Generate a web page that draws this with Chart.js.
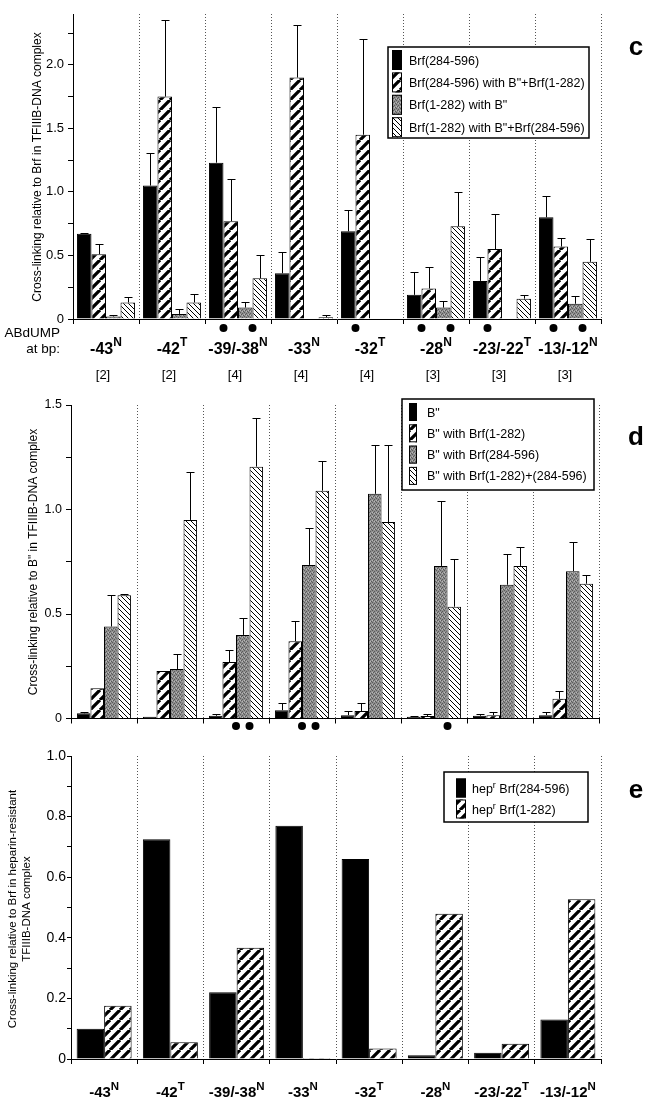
<!DOCTYPE html>
<html>
<head>
<meta charset="utf-8">
<script src="https://cdn.jsdelivr.net/npm/chart.js@4.4.1/dist/chart.umd.min.js"></script>
<style>
  html, body { margin: 0; padding: 0; background: #fff; }
  #page { position: relative; width: 652px; height: 1111px; overflow: hidden; }
  .panel { position: absolute; left: 0; width: 652px; }
</style>
</head>
<body>
<div id="page">
  <div class="panel" style="top:0;height:390px"><canvas id="chartC"></canvas></div>
  <div class="panel" style="top:390px;height:340px"><canvas id="chartD"></canvas></div>
  <div class="panel" style="top:730px;height:381px"><canvas id="chartE"></canvas></div>
</div>
<script>
/* ── DATA ─────────────────────────────────────────────────── */
const positions = ['-43', '-42', '-39/-38', '-33', '-32', '-28', '-23/-22', '-13/-12'];
const strands = ['N', 'T', 'N', 'N', 'T', 'N', 'T', 'N'];
const replicates = ['[2]', '[2]', '[4]', '[4]', '[4]', '[3]', '[3]', '[3]'];

// panel c
const legendC = ['Brf(284-596)', 'Brf(284-596) with B"+Brf(1-282)', 'Brf(1-282) with B"', 'Brf(1-282) with B"+Brf(284-596)'];
const brfC = [0.67, 1.05, 1.23, 0.36, 0.69, 0.19, 0.30, 0.80];
const brfCErr = [0.68, 1.31, 1.67, 0.53, 0.86, 0.37, 0.49, 0.97];
const brfBBrfC = [0.51, 1.75, 0.77, 1.90, 1.45, 0.24, 0.55, 0.57];
const brfBBrfCErr = [0.59, 2.35, 1.10, 2.31, 2.20, 0.41, 0.83, 0.64];
const nBrfBC = [0.02, 0.04, 0.09, 0.003, 0.004, 0.09, 0, 0.12];
const nBrfBCErr = [0.03, 0.08, 0.13, null, null, 0.14, null, 0.18];
const nBrfBBrfC = [0.13, 0.13, 0.32, 0.013, 0.004, 0.73, 0.16, 0.45];
const nBrfBBrfCErr = [0.17, 0.20, 0.50, 0.03, null, 1.00, 0.19, 0.63];
const ticksC = [0, 0.25, 0.5, 0.75, 1.0, 1.25, 1.5, 1.75, 2.0, 2.25];
const tickLabelsC = ['0', '', '0.5', '', '1.0', '', '1.5', '', '2.0', ''];
const dotsC = [[2, 1], [2, 3], [4, 1], [5, 1], [5, 3], [6, 1], [7, 1], [7, 3]];

// panel d
const legendD = ['B"', 'B" with Brf(1-282)', 'B" with Brf(284-596)', 'B" with Brf(1-282)+(284-596)'];
const bD = [0.025, 0.008, 0.013, 0.04, 0.016, 0.008, 0.013, 0.016];
const bDErr = [0.03, null, 0.02, 0.075, 0.035, 0.012, 0.02, 0.03];
const bND = [0.145, 0.227, 0.27, 0.37, 0.036, 0.012, 0.016, 0.094];
const bNDErr = [null, null, 0.33, 0.465, 0.074, 0.02, 0.03, 0.13];
const bCD = [0.44, 0.237, 0.40, 0.735, 1.075, 0.73, 0.64, 0.705];
const bCDErr = [0.59, 0.31, 0.48, 0.91, 1.31, 1.04, 0.785, 0.845];
const bNCD = [0.59, 0.95, 1.205, 1.09, 0.94, 0.535, 0.73, 0.645];
const bNCDErr = [0.595, 1.18, 1.44, 1.23, 1.31, 0.765, 0.82, 0.685];
const ticksD = [0, 0.25, 0.5, 0.75, 1.0, 1.25, 1.5];
const tickLabelsD = ['0', '', '0.5', '', '1.0', '', '1.5'];
const dotsD = [[2, 2], [2, 3], [3, 2], [3, 3], [5, 3]];

// panel e
const legendE = ['hep^{r} Brf(284-596)', 'hep^{r} Brf(1-282)'];
const hepC = [0.10, 0.725, 0.22, 0.77, 0.66, 0.012, 0.021, 0.13];
const hepN = [0.176, 0.055, 0.367, 0.003, 0.035, 0.479, 0.05, 0.527];
const ticksE = [0, 0.1, 0.2, 0.3, 0.4, 0.5, 0.6, 0.7, 0.8, 0.9, 1.0];
const tickLabelsE = ['0', '', '0.2', '', '0.4', '', '0.6', '', '0.8', '', '1.0'];

/* ── HELPERS ──────────────────────────────────────────────── */
const FONT = "'Liberation Sans', Arial, Helvetica, sans-serif";
Chart.defaults.font.family = FONT;
Chart.defaults.color = '#000';

function makeFill(kind) {
  if (kind === 'solid') return '#000';
  const c = document.createElement('canvas');
  const g = c.getContext('2d');
  if (kind === 'wide') {            // thick "/" stripes
    const s = 10;
    c.width = s; c.height = s;
    g.fillStyle = '#fff'; g.fillRect(0, 0, s, s);
    g.strokeStyle = '#000'; g.lineWidth = 3.3;
    g.beginPath();
    for (let k = -1; k <= 1; k++) { g.moveTo(k * s, s); g.lineTo(k * s + s, 0); }
    g.stroke();
  } else if (kind === 'thin') {     // thin "\" stripes
    const s = 5;
    c.width = s; c.height = s;
    g.fillStyle = '#fff'; g.fillRect(0, 0, s, s);
    g.strokeStyle = '#000'; g.lineWidth = 1;
    g.beginPath();
    for (let k = -1; k <= 1; k++) { g.moveTo(k * s, 0); g.lineTo(k * s + s, s); }
    g.stroke();
  } else {                          // grey stipple
    c.width = 4; c.height = 4;
    g.fillStyle = '#8e8e8e'; g.fillRect(0, 0, 4, 4);
    g.fillStyle = '#5a5a5a';
    [[0, 0], [2, 1], [1, 2], [3, 3]].forEach(([x, y]) => g.fillRect(x, y, 1, 1));
    g.fillStyle = '#b8b8b8';
    [[2, 3], [0, 2]].forEach(([x, y]) => g.fillRect(x, y, 1, 1));
  }
  return g.createPattern(c, 'repeat');
}

// text with ^{sup} parts
function drawRich(ctx, text, x, y, font, supFont, raise, align) {
  const parts = text.split(/(\^\{[^}]*\})/).filter(Boolean).map(p =>
    p.startsWith('^{') ? { t: p.slice(2, -1), sup: true } : { t: p, sup: false });
  let total = 0;
  parts.forEach(p => { ctx.font = p.sup ? supFont : font; p.w = ctx.measureText(p.t).width; total += p.w; });
  let cx = align === 'center' ? x - total / 2 : x;
  ctx.textAlign = 'left';
  parts.forEach(p => {
    ctx.font = p.sup ? supFont : font;
    ctx.fillText(p.t, cx, p.sup ? y - raise : y);
    cx += p.w;
  });
}

/* ── PANEL PLUGIN ─────────────────────────────────────────── */
function panelDecor(o) {
  return {
    id: 'decor',
    afterDatasetsDraw(chart) {
      const { ctx, scales: { y } } = chart;
      ctx.save();
      ctx.strokeStyle = '#000';
      ctx.lineWidth = 1;
      // error bars (upper only)
      chart.data.datasets.forEach((ds, di) => {
        if (!ds.err) return;
        chart.getDatasetMeta(di).data.forEach((bar, i) => {
          const top = ds.err[i];
          if (top == null) return;
          const { x, y: yBar } = bar.getProps(['x', 'y'], true);
          const yTop = Math.round(y.getPixelForValue(top)) + 0.5;
          const xc = Math.round(x) + 0.5;
          ctx.beginPath();
          ctx.moveTo(xc, yBar);
          ctx.lineTo(xc, yTop);
          ctx.moveTo(xc - 4, yTop);
          ctx.lineTo(xc + 4, yTop);
          ctx.stroke();
        });
      });
      // ABdUMP dots
      if (o.dots) {
        ctx.fillStyle = '#000';
        o.dots.forEach(([cat, j]) => {
          const bar = chart.getDatasetMeta(j).data[cat];
          const { x, width } = bar.getProps(['x', 'width'], true);
          ctx.beginPath();
          ctx.arc(x - width / 2, o.dotY, 4, 0, Math.PI * 2);
          ctx.fill();
        });
      }
      ctx.restore();
    },
    afterDraw(chart) {
      const { ctx, scales: { x } } = chart;
      ctx.save();
      ctx.fillStyle = '#000';
      ctx.textBaseline = 'alphabetic';

      // y title (rotated)
      o.yTitle.lines.forEach((line, k) => {
        ctx.save();
        ctx.translate(o.yTitle.x[k], o.yTitle.y);
        ctx.rotate(-Math.PI / 2);
        ctx.font = o.yTitle.font;
        ctx.textAlign = 'center';
        ctx.textBaseline = 'middle';
        ctx.fillText(line, 0, 0);
        ctx.restore();
      });

      // category labels with strand superscript
      if (o.cat) {
        positions.forEach((p, i) => {
          drawRich(ctx, p + '^{' + strands[i] + '}', x.getPixelForValue(i), o.cat.y,
            o.cat.font, o.cat.supFont, o.cat.raise, 'center');
        });
      }
      if (o.reps) {
        ctx.font = o.reps.font;
        ctx.textAlign = 'center';
        ctx.textBaseline = 'middle';
        replicates.forEach((r, i) => ctx.fillText(r, x.getPixelForValue(i) - 3, o.reps.y));
        ctx.textBaseline = 'alphabetic';
      }
      if (o.side) {
        ctx.font = o.side.font;
        ctx.textAlign = 'right';
        o.side.lines.forEach(([t, yy]) => ctx.fillText(t, o.side.x, yy));
      }

      // legend box
      const L = o.legend;
      ctx.fillStyle = '#fff';
      ctx.fillRect(L.x, L.y, L.w, L.h);
      ctx.strokeStyle = '#000';
      ctx.lineWidth = 1.5;
      ctx.strokeRect(L.x, L.y, L.w, L.h);
      ctx.lineWidth = 1;
      chart.data.datasets.forEach((ds, i) => {
        const cy = L.row0 + i * L.gap;
        ctx.fillStyle = ds.backgroundColor;
        ctx.fillRect(L.swX, cy - L.swH / 2, L.swW, L.swH);
        ctx.strokeRect(L.swX + 0.5, cy - L.swH / 2 + 0.5, L.swW - 1, L.swH - 1);
        ctx.fillStyle = '#000';
        drawRich(ctx, ds.label, L.textX, cy + 4.5, L.font, L.supFont, 5, 'left');
      });

      // panel letter
      ctx.font = 'bold 26px ' + FONT;
      ctx.textAlign = 'center';
      ctx.fillText(o.letter.t, o.letter.x, o.letter.y);
      ctx.restore();
    }
  };
}

function makePanel(id, o) {
  const fills = o.fills.map(makeFill);
  return new Chart(document.getElementById(id), {
    type: 'bar',
    data: {
      labels: positions,
      datasets: o.series.map((s, i) => ({
        label: s.label,
        data: s.data,
        err: s.err,
        backgroundColor: fills[i],
        borderColor: '#000',
        borderWidth: 1,
        categoryPercentage: o.catPct,
        barPercentage: 1.0
      }))
    },
    options: {
      responsive: true,
      maintainAspectRatio: false,
      animation: false,
      devicePixelRatio: 1,
      layout: { padding: { top: o.padTop, right: o.padRight, left: 0, bottom: 0 } },
      plugins: { legend: { display: false }, tooltip: { enabled: false } },
      scales: {
        x: {
          ticks: { display: false },
          grid: {
            offset: true,
            drawOnChartArea: true,
            color: c => (c.index === 0 ? 'rgba(0,0,0,0)' : '#555'),
            lineWidth: 1,
            tickLength: 5,
            tickColor: '#000'
          },
          border: { color: '#000', width: 1, dash: [1, 2] },
          afterFit: s => { s.height = o.xHeight; }
        },
        y: {
          min: 0,
          max: o.yMax,
          afterBuildTicks: s => { s.ticks = o.ticks.map(v => ({ value: v })); },
          ticks: {
            autoSkip: false,
            padding: o.tickPad,
            font: { size: o.tickSize },
            color: '#000',
            callback: (v, i) => o.tickLabels[i]
          },
          grid: { drawOnChartArea: false, tickLength: o.tickLen, color: '#000' },
          border: { color: '#000', width: 1 },
          afterFit: s => { s.width = o.yWidth; }
        }
      }
    },
    plugins: [panelDecor(o.decor)]
  });
}

/* ── PANEL C ──────────────────────────────────────────────── */
makePanel('chartC', {
  series: [
    { label: legendC[0], data: brfC, err: brfCErr },
    { label: legendC[1], data: brfBBrfC, err: brfBBrfCErr },
    { label: legendC[2], data: nBrfBC, err: nBrfBCErr },
    { label: legendC[3], data: nBrfBBrfC, err: nBrfBBrfCErr }
  ],
  fills: ['solid', 'wide', 'grey', 'thin'],
  catPct: 0.88,
  yMax: 2.4, ticks: ticksC, tickLabels: tickLabelsC,
  tickSize: 13, tickPad: 4, tickLen: 5,
  padTop: 14, padRight: 51, yWidth: 73, xHeight: 71,
  decor: {
    yTitle: { lines: ['Cross-linking relative to Brf in TFIIIB-DNA complex'], x: [38], y: 167, font: '12px ' + FONT },
    cat: { y: 354, font: 'bold 16px ' + FONT, supFont: 'bold 12px ' + FONT, raise: 8 },
    reps: { y: 375, font: '13px ' + FONT },
    side: { x: 60, font: '13.5px ' + FONT, lines: [['ABdUMP', 337], ['at bp:', 353]] },
    dots: dotsC, dotY: 328,
    legend: { x: 388, y: 47, w: 201, h: 91, row0: 60, gap: 22.4, swX: 392, swW: 10, swH: 20,
      textX: 409, font: '12.5px ' + FONT, supFont: '9px ' + FONT },
    letter: { t: 'c', x: 636, y: 55 }
  }
});

/* ── PANEL D ──────────────────────────────────────────────── */
makePanel('chartD', {
  series: [
    { label: legendD[0], data: bD, err: bDErr },
    { label: legendD[1], data: bND, err: bNDErr },
    { label: legendD[2], data: bCD, err: bCDErr },
    { label: legendD[3], data: bNCD, err: bNCDErr }
  ],
  fills: ['solid', 'wide', 'grey', 'thin'],
  catPct: 0.82,
  yMax: 1.5, ticks: ticksD, tickLabels: tickLabelsD,
  tickSize: 12.5, tickPad: 4, tickLen: 5,
  padTop: 15, padRight: 53, yWidth: 71, xHeight: 11,
  decor: {
    yTitle: { lines: ['Cross-linking relative to B" in TFIIIB-DNA complex'], x: [34], y: 172, font: '12px ' + FONT },
    dots: dotsD, dotY: 336,
    legend: { x: 402, y: 9, w: 192, h: 91, row0: 22, gap: 21.3, swX: 409, swW: 8, swH: 18,
      textX: 427, font: '12.5px ' + FONT, supFont: '9px ' + FONT },
    letter: { t: 'd', x: 636, y: 55 }
  }
});

/* ── PANEL E ──────────────────────────────────────────────── */
makePanel('chartE', {
  series: [
    { label: legendE[0], data: hepC },
    { label: legendE[1], data: hepN }
  ],
  fills: ['solid', 'wide'],
  catPct: 0.83,
  yMax: 1.0, ticks: ticksE, tickLabels: tickLabelsE,
  tickSize: 14, tickPad: 1, tickLen: 4,
  padTop: 26, padRight: 51, yWidth: 71, xHeight: 52,
  decor: {
    yTitle: { lines: ['Cross-linking relative to Brf in heparin-resistant', 'TFIIIB-DNA complex'], x: [13, 27], y: 179, font: '11.5px ' + FONT },
    cat: { y: 367, font: 'bold 15px ' + FONT, supFont: 'bold 11.5px ' + FONT, raise: 7 },
    legend: { x: 444, y: 42, w: 144, h: 50, row0: 58, gap: 21, swX: 456, swW: 10, swH: 19,
      textX: 472, font: '12.5px ' + FONT, supFont: '9px ' + FONT },
    letter: { t: 'e', x: 636, y: 68 }
  }
});
</script>
</body>
</html>
